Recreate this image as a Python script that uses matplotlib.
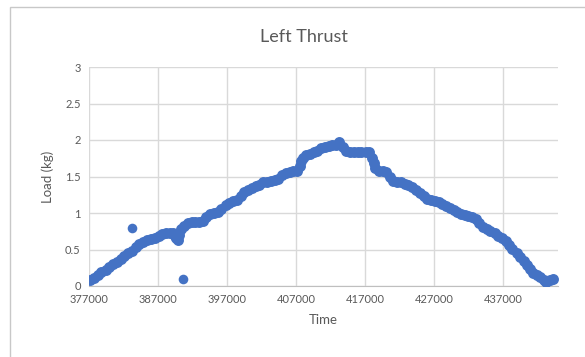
import matplotlib.pyplot as plt
from matplotlib.patches import Rectangle
from matplotlib.ticker import FormatStrFormatter

# Valeurs (temps, charge en kg)
time = [
    377200, 377700, 378300, 378800, 379400, 379900, 380500, 381000, 381600, 382100,
    382700, 383200, 383800, 384300, 384900, 385400, 386000, 386500, 387100, 387600,
    388200, 388700, 389200, 389400, 389600, 389900, 390100, 390300, 390800, 391300,
    391900, 392400, 393000, 393500, 394000, 394600, 395100, 395700, 396200, 396800,
    397300, 397900, 398400, 399000, 399500, 400100, 400600, 401200, 401700, 402300,
    402800, 403400, 403900, 404400, 405000, 405500, 406100, 406600, 407200, 407600,
    407800, 408000, 408500, 409000, 409600, 410100, 410700, 411200, 411800, 412300,
    412800, 413300, 413800, 414300, 414900, 415400, 416000, 416500, 417100, 417600,
    418100, 418300, 418500, 419000, 419600, 420100, 420600, 421100, 421700, 422200,
    422800, 423300, 423900, 424400, 425000, 425500, 426000, 426600, 427100, 427700,
    428200, 428800, 429300, 429900, 430400, 430900, 431500, 432000, 432600, 433100,
    433600, 434100, 434700, 435200, 435800, 436300, 436900, 437400, 437900, 438400,
    439000, 439500, 440000, 440500, 441000, 441400, 441900, 442400, 442900, 443300,
    443800, 444300,
]
load = [
    0.08, 0.11, 0.15, 0.19, 0.22, 0.26, 0.30, 0.33, 0.37, 0.41,
    0.45, 0.48, 0.53, 0.57, 0.60, 0.63, 0.64, 0.66, 0.69, 0.71,
    0.73, 0.73, 0.72, 0.69, 0.66, 0.63, 0.70, 0.78, 0.82, 0.86,
    0.87, 0.87, 0.87, 0.89, 0.94, 0.98, 1.00, 1.01, 1.05, 1.11,
    1.14, 1.17, 1.18, 1.23, 1.29, 1.32, 1.34, 1.37, 1.39, 1.42,
    1.43, 1.44, 1.45, 1.47, 1.52, 1.55, 1.56, 1.57, 1.58, 1.65,
    1.71, 1.76, 1.79, 1.81, 1.83, 1.85, 1.89, 1.90, 1.92, 1.93,
    1.93, 1.97, 1.90, 1.85, 1.84, 1.84, 1.84, 1.84, 1.84, 1.84,
    1.76, 1.69, 1.62, 1.58, 1.58, 1.56, 1.50, 1.44, 1.42, 1.42,
    1.40, 1.38, 1.35, 1.31, 1.27, 1.23, 1.19, 1.18, 1.17, 1.15,
    1.13, 1.10, 1.07, 1.04, 1.01, 0.99, 0.97, 0.96, 0.95, 0.92,
    0.86, 0.81, 0.78, 0.75, 0.72, 0.69, 0.66, 0.62, 0.56, 0.51,
    0.45, 0.40, 0.34, 0.29, 0.23, 0.18, 0.15, 0.13, 0.08, 0.06,
    0.08, 0.10,
]
# Points isolés
outlier_time = [383300, 390700]
outlier_load = [0.80, 0.10]

x_ticks = [377000, 387000, 397000, 407000, 417000, 427000, 437000]
y_ticks = [0, 0.5, 1, 1.5, 2, 2.5, 3]

gray = '#595959'
blue = '#4472C4'

plt.rcParams['font.family'] = ['Lato', 'DejaVu Sans']

fig = plt.figure(figsize=(5.85, 3.57), dpi=100)
ax = fig.add_axes([89 / 585, 1 - 286 / 357, (558 - 89) / 585, (286 - 67) / 357])

ax.scatter(time, load, s=62, color=blue, linewidths=0, zorder=3)
ax.scatter(outlier_time, outlier_load, s=48, color=blue, linewidths=0, zorder=3)

ax.set_xlim(377000, 445000)
ax.set_ylim(0, 3)
ax.set_xticks(x_ticks)
ax.set_yticks(y_ticks)
ax.yaxis.set_major_formatter(FormatStrFormatter('%g'))
ax.grid(True, color='#d9d9d9', linewidth=1)
ax.set_axisbelow(True)
for side in ['top', 'right', 'left']:
    ax.spines[side].set_visible(False)
ax.spines['bottom'].set_color('#bfbfbf')
ax.tick_params(length=0, labelsize=8, colors=gray, pad=6)

ax.set_xlabel('Time', fontsize=9.5, color=gray, labelpad=6)
ax.set_ylabel('Load (kg)', fontsize=9.5, color=gray, labelpad=8)
fig.text(304 / 585, 1 - 37 / 357, 'Left Thrust', fontsize=13, color=gray,
         ha='center', va='center')

# Bordure du graphique
fig.patches.append(Rectangle((10 / 585, -0.1), 1.2, 1.1 - 7 / 357,
                             transform=fig.transFigure, fill=False,
                             edgecolor='#c8c8c8', linewidth=1))

fig.savefig('out.png', dpi=100)
